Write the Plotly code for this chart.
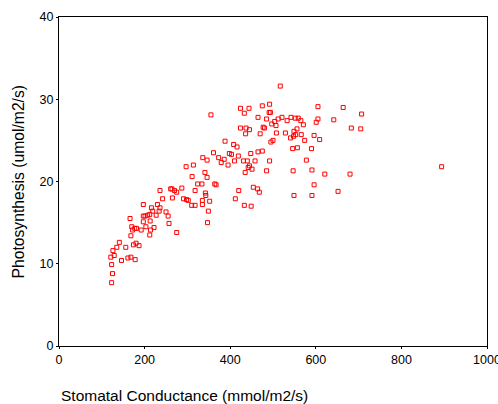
import plotly.graph_objects as go

conductance = [123,125,123,121,129,126,135,141,146,156,161,168,178,166,168,170,172,174,177,181,180,187,192,
197,197,197,201,203,207,212,212,214,213,216,219,222,227,230,234,236,236,242,250,255,257,261,264,265,270,275,275,
287,291,297,298,302,310,311,314,318,318,324,334,335,335,336,341,342,343,346,346,347,349,352,355,361,364,367,373,
379,386,388,395,398,403,408,410,412,416,419,420,424,424,431,433,433,435,436,437,440,442,444,445,445,448,449,451,
454,458,464,465,465,468,470,475,475,477,480,485,485,491,492,492,494,495,497,500,504,507,508,512,517,521,529,533,
541,542,546,547,548,549,549,552,553,556,557,559,565,566,571,574,578,590,591,591,596,596,601,605,605,609,621,642,
652,664,680,683,705,707,894]
photosynthesis = [7.7,8.8,9.9,10.8,11.0,11.6,12.0,12.6,10.4,12.0,10.7,10.8,10.5,15.5,13.4,14.5,14.1,12.3,14.3,14.3,12.5,12.2,14.1,
17.2,15.8,15.1,15.8,14.5,15.9,16.0,13.5,14.1,15.2,16.8,16.4,14.4,15.9,17.2,16.4,16.8,18.9,17.9,16.3,15.8,14.9,19.1,19.1,18.0,18.9,18.7,13.8,
19.2,17.9,21.8,17.8,17.7,17.1,20.6,22.0,18.9,17.1,19.7,19.7,17.7,17.2,22.9,21.1,18.6,18.3,20.5,22.6,15.0,16.4,17.6,28.1,23.5,19.7,19.6,22.9,
22.3,22.7,24.9,22.0,23.4,23.3,24.5,22.5,17.9,24.2,23.1,18.9,28.9,26.5,22.5,28.3,17.1,21.1,25.8,26.5,22.5,21.7,28.9,26.3,21.9,23.4,17.0,21.5,
19.3,22.5,19.1,27.8,23.6,18.7,25.8,29.2,23.7,26.6,26.5,21.3,27.6,28.4,29.4,22.5,28.4,24.8,27.0,25.0,27.3,26.8,25.9,27.6,31.6,27.8,25.9,27.4,
25.3,27.8,24.0,21.3,25.5,26.1,18.3,27.7,25.7,26.4,24.1,27.7,27.4,25.7,26.9,25.0,22.6,24.0,21.4,18.3,25.6,19.6,27.2,29.1,27.6,25.1,20.9,27.5,
18.8,29.0,20.9,26.5,26.4,28.2,21.8]

x_ticks = [0, 200, 400, 600, 800, 1000]
y_ticks = [0, 10, 20, 30, 40]
x_title = "Stomatal Conductance (mmol/m2/s)"
y_title = "Photosynthesis (umol/m2/s)"

fig = go.Figure(go.Scatter(
    x=conductance, y=photosynthesis, mode="markers",
    marker=dict(symbol="square-open", size=4, color="#ff0000", line=dict(width=1, color="#ff0000")),
    showlegend=False, cliponaxis=False,
))

axis_common = dict(showline=True, linecolor="black", linewidth=1, mirror=True, showgrid=False,
                   zeroline=False, ticks="outside", ticklen=2, tickcolor="black", automargin=False,
                   ticklabeloverflow="allow",
                   tickfont=dict(family="Liberation Sans, Arial", size=12.5, color="black"))

L, R, T, B = 59, 11, 17, 58
fig.update_layout(
    width=498, height=404,
    margin=dict(l=L, r=R, t=T, b=B),
    plot_bgcolor="white", paper_bgcolor="white",
    font=dict(family="Liberation Sans, Arial", color="black"),
    xaxis=dict(range=[0, 1000], tickvals=x_ticks, ticktext=[str(v) for v in x_ticks], **axis_common),
    yaxis=dict(range=[0, 40], tickvals=y_ticks, ticktext=[str(v) for v in y_ticks], **axis_common),
    annotations=[
        dict(text=x_title, xref="paper", yref="paper", x=0, xanchor="left", y=-49 / (404 - T - B),
             yanchor="middle", showarrow=False, font=dict(size=15.5, color="black")),
        dict(text=y_title, xref="paper", yref="paper", x=-41 / (498 - L - R), xanchor="center",
             y=0.5, yanchor="middle", textangle=-90, showarrow=False,
             font=dict(size=15.7, color="black")),
    ],
)

fig.write_html("out.html", config={"displayModeBar": False},
               post_script="document.body.style.margin='0';document.body.style.overflow='hidden';")
